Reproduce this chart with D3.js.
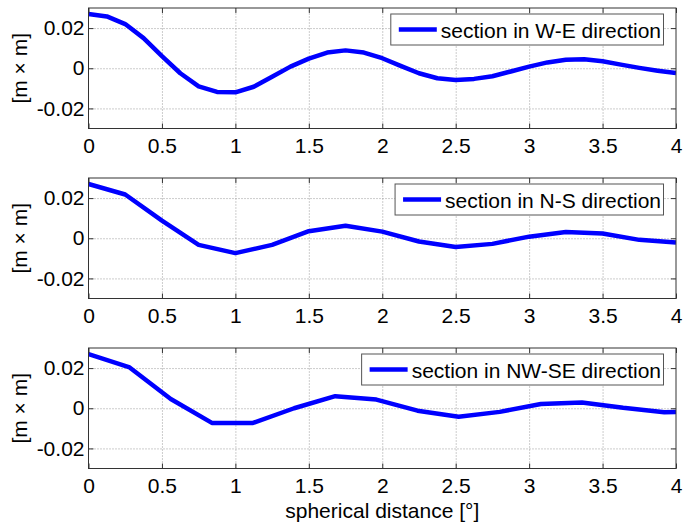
<!DOCTYPE html>
<html>
<head>
<meta charset="utf-8">
<script src="https://cdn.jsdelivr.net/npm/d3@7"></script>
<style>
  html, body { margin: 0; padding: 0; background: #fff; }
  svg { display: block; font-family: "Liberation Sans", Arial, sans-serif; }
</style>
</head>
<body>
<svg id="chart" width="684" height="526"></svg>
<script>
// Section through the signal along three directions, value vs spherical distance
const distWE = [0, 0.125, 0.25, 0.375, 0.5, 0.625, 0.75, 0.875, 1, 1.125, 1.25, 1.375, 1.5, 1.625, 1.75, 1.875,
                2, 2.125, 2.25, 2.375, 2.5, 2.625, 2.75, 2.875, 3, 3.125, 3.25, 3.375, 3.5, 3.625, 3.75, 3.875, 4];
const valWE = [0.0270, 0.0258, 0.0220, 0.0150, 0.0060, -0.0025, -0.0090, -0.0118, -0.0120, -0.0092, -0.0042, 0.0008,
               0.0048, 0.0078, 0.0089, 0.0078, 0.0050, 0.0012, -0.0025, -0.0050, -0.0058, -0.0053, -0.0040, -0.0016,
               0.0008, 0.0029, 0.0042, 0.0045, 0.0035, 0.0018, 0.0002, -0.0012, -0.0024];

const distNS = [0, 0.25, 0.5, 0.75, 1, 1.25, 1.5, 1.75, 2, 2.25, 2.5, 2.75, 3, 3.25, 3.5, 3.75, 4];
const valNS = [0.0270, 0.0218, 0.0088, -0.0033, -0.0074, -0.0033, 0.0035, 0.0062, 0.0033, -0.0016, -0.0044,
               -0.0028, 0.0008, 0.0031, 0.0024, -0.0008, -0.0021];

const distNWSE = [0, 0.28, 0.56, 0.84, 1.12, 1.40, 1.68, 1.96, 2.24, 2.52, 2.80, 3.08, 3.36, 3.64, 3.92, 4];
const valNWSE = [0.0270, 0.0203, 0.0046, -0.0073, -0.0073, 0.0000, 0.0060, 0.0043, -0.0012, -0.0042, -0.0018,
                 0.0021, 0.0029, 0.0002, -0.0020, -0.0019];

const sectionNames = ["section in W-E direction", "section in N-S direction", "section in NW-SE direction"];

const xTickValues = [0, 0.5, 1, 1.5, 2, 2.5, 3, 3.5, 4];
const xTickLabels = ["0", "0.5", "1", "1.5", "2", "2.5", "3", "3.5", "4"];
const yTickValues = [-0.02, 0, 0.02];
const yTickLabels = ["-0.02", "0", "0.02"];
const yLabelText = "[m \u00d7 m]";
const xLabelText = "spherical distance [\u00b0]";

const series = [
  { name: sectionNames[0], dist: distWE, val: valWE },
  { name: sectionNames[1], dist: distNS, val: valNS },
  { name: sectionNames[2], dist: distNWSE, val: valNWSE }
];

const FONT = 21;
const left = 88.5, right = 676;
const panelH = 120.5;
const panelTops = [8, 178, 348];
const axisColor = "#333";
const gridColor = "#9a9a9a";
const lineColor = "#0000ff";

const svg = d3.select("#chart");
const x = d3.scaleLinear().domain([0, 4]).range([left, right]);

series.forEach((s, i) => {
  const top = panelTops[i], bottom = top + panelH;
  const y = d3.scaleLinear().domain([-0.03, 0.03]).range([bottom, top]);
  const g = svg.append("g");

  // dotted grid
  g.append("g")
    .attr("transform", `translate(0,${bottom})`)
    .call(d3.axisBottom(x).tickValues(xTickValues.slice(1, -1)).tickSize(-panelH).tickFormat(""))
    .call(a => a.select(".domain").remove())
    .selectAll("line").attr("stroke", gridColor).attr("stroke-dasharray", "1,2");
  g.append("g")
    .attr("transform", `translate(${left},0)`)
    .call(d3.axisLeft(y).tickValues(yTickValues).tickSize(-(right - left)).tickFormat(""))
    .call(a => a.select(".domain").remove())
    .selectAll("line").attr("stroke", gridColor).attr("stroke-dasharray", "1,2");

  // data line
  const clipId = "clip" + i;
  svg.append("defs").append("clipPath").attr("id", clipId)
    .append("rect").attr("x", left).attr("y", top).attr("width", right - left).attr("height", panelH);
  const line = d3.line().x((d, k) => x(s.dist[k])).y(d => y(d)).curve(d3.curveLinear);
  g.append("path")
    .datum(s.val)
    .attr("clip-path", `url(#${clipId})`)
    .attr("d", line)
    .attr("fill", "none")
    .attr("stroke", lineColor)
    .attr("stroke-width", 4.5)
    .attr("stroke-linejoin", "round");

  // box
  g.append("rect")
    .attr("x", left).attr("y", top).attr("width", right - left).attr("height", panelH)
    .attr("fill", "none").attr("stroke", axisColor).attr("stroke-width", 1);

  // inward ticks on all four sides
  const styleAxis = a => {
    a.select(".domain").remove();
    a.selectAll("line").attr("stroke", axisColor);
    a.selectAll("text").attr("fill", "#000").style("font-size", FONT + "px")
      .style("font-family", '"Liberation Sans", Arial, sans-serif');
  };
  g.append("g").attr("transform", `translate(0,${bottom})`)
    .call(d3.axisBottom(x).tickValues(xTickValues).tickFormat((d, k) => xTickLabels[k])
      .tickSizeInner(-5).tickSizeOuter(0).tickPadding(10))
    .call(styleAxis);
  g.append("g").attr("transform", `translate(0,${top})`)
    .call(d3.axisTop(x).tickValues(xTickValues).tickFormat("").tickSizeInner(-5).tickSizeOuter(0))
    .call(styleAxis);
  g.append("g").attr("transform", `translate(${left},0)`)
    .call(d3.axisLeft(y).tickValues(yTickValues).tickFormat((d, k) => yTickLabels[k])
      .tickSizeInner(-5).tickSizeOuter(0).tickPadding(4))
    .call(styleAxis);
  g.append("g").attr("transform", `translate(${right},0)`)
    .call(d3.axisRight(y).tickValues(yTickValues).tickFormat("").tickSizeInner(-5).tickSizeOuter(0))
    .call(styleAxis);

  // y axis label
  g.append("text")
    .attr("transform", `translate(27,${(top + bottom) / 2}) rotate(-90)`)
    .attr("text-anchor", "middle")
    .style("font-size", FONT + "px")
    .text(yLabelText);

  // legend
  const lg = g.append("g");
  const boxTop = top + 6, boxH = 31, boxRight = 663.5;
  const box = lg.append("rect").attr("y", boxTop).attr("height", boxH)
    .attr("fill", "#fff").attr("stroke", "#555").attr("stroke-width", 1);
  const txt = lg.append("text")
    .attr("x", boxRight - 2.5).attr("y", boxTop + 23.5)
    .attr("text-anchor", "end")
    .style("font-size", FONT + "px")
    .text(s.name);
  const tw = txt.node().getComputedTextLength();
  const textStart = boxRight - 2.5 - tw;
  const sampleEnd = textStart - 4, sampleStart = sampleEnd - 38;
  lg.append("line")
    .attr("x1", sampleStart).attr("x2", sampleEnd)
    .attr("y1", boxTop + boxH / 2).attr("y2", boxTop + boxH / 2)
    .attr("stroke", lineColor).attr("stroke-width", 4.5);
  box.attr("x", sampleStart - 8).attr("width", boxRight - (sampleStart - 8));
});

// x axis title
svg.append("text")
  .attr("x", (left + right) / 2).attr("y", 518)
  .attr("text-anchor", "middle")
  .style("font-size", FONT + "px")
  .text(xLabelText);
</script>
</body>
</html>
